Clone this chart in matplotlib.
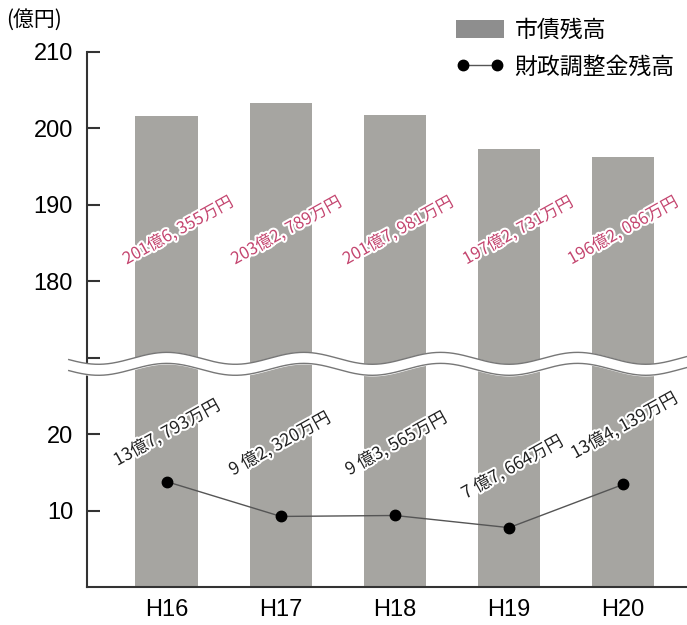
import numpy as np
import matplotlib
matplotlib.use("Agg")
import matplotlib.pyplot as plt
import matplotlib.patheffects as pe
from matplotlib.patches import Patch
from matplotlib.lines import Line2D

plt.rcParams['font.family'] = ['Liberation Sans', 'Noto Sans CJK JP', 'DejaVu Sans']
JP = ['Noto Sans CJK JP', 'DejaVu Sans']

# データ
years = ["H16", "H17", "H18", "H19", "H20"]
shisai = [201.6355, 203.2789, 201.7981, 197.2731, 196.2086]      # 市債残高(億円)
zaisei = [13.7793, 9.2320, 9.3565, 7.7664, 13.4139]              # 財政調整金残高(億円)
shisai_lbl = ["201億6, 355万円", "203億2, 789万円", "201億7, 981万円",
              "197億2, 731万円", "196億2, 086万円"]
zaisei_lbl = ["13億7, 793万円", "9 億2, 320万円", "9 億3, 565万円",
              "7 億7, 664万円", "13億4, 139万円"]

# 上段(170〜210)を下段の上に詰める
SHIFT = 140
def up(v):
    return np.asarray(v) - SHIFT

fig = plt.figure(figsize=(6.87, 6.25), dpi=100)
ax = fig.add_axes([87/687, 1-587/625, 1-87/687, (587-52)/625])

x = np.arange(len(years))
ax.bar(x, up(shisai), width=0.55, color='#a6a5a1', zorder=1)
ax.plot(x, zaisei, color='#555555', lw=1, zorder=4)
ax.plot(x, zaisei, 'o', color='black', ms=7.5, zorder=5)

ax.set_xlim(-0.70, 4.56)
ax.set_ylim(0, 70)

# 波線(省略記号)
wx = np.linspace(-0.86, 4.7, 600)
wu = 29.92 + 0.78*np.cos(2*np.pi*wx/1.2)
wl = wu - 1.44
ax.fill_between(wx, wl, wu, color='white', zorder=6, clip_on=False)
ax.plot(wx, wu, color='#777777', lw=1, zorder=7, clip_on=False)
ax.plot(wx, wl, color='#777777', lw=1, zorder=7, clip_on=False)

halo = [pe.withStroke(linewidth=3, foreground='white')]
s_dx = [0.1, 0.05, 0.03, 0.08, 0.0]
for i, t in enumerate(shisai_lbl):
    ax.text(i + s_dx[i], 46.6, t, rotation=29, ha='center', va='center',
            fontsize=12, color='#c4456f', family=JP, zorder=8,
            path_effects=halo, rotation_mode='anchor')

z_dx = [0.0, -0.01, 0.01, 0.03, 0.01]
z_dy = [6.4, 9.5, 9.4, 7.9, 7.7]
for i, t in enumerate(zaisei_lbl):
    ax.text(i + z_dx[i], zaisei[i] + z_dy[i], t, rotation=29, ha='center',
            va='center', fontsize=12.5, color='#222222', family=JP, zorder=8,
            path_effects=halo, rotation_mode='anchor')

ticks = [10, 20, 30, 40, 50, 60, 70]
tick_lbl = ["10", "20", "", "180", "190", "200", "210"]
ax.set_yticks(ticks)
ax.set_yticklabels(tick_lbl)
ax.set_xticks(x)
ax.set_xticklabels(years)
ax.tick_params(axis='y', direction='in', length=9, width=1.5, pad=10,
               labelsize=17, color='#333333')
ax.tick_params(axis='x', length=0, pad=9, labelsize=17)
for s in ['top', 'right']:
    ax.spines[s].set_visible(False)
for s in ['left', 'bottom']:
    ax.spines[s].set_linewidth(1.5)
    ax.spines[s].set_color('#333333')

fig.text(6/687, 1-20/625, "(億円)", fontsize=15, family=JP, va='center')

handles = [Patch(facecolor='#8e8e8e', edgecolor='none'),
           Line2D([0], [0], color='#555555', lw=1, marker='o', ms=7.5,
                  mfc='black', mec='black')]
fig.legend(handles, ["市債残高", "財政調整金残高"], loc='upper left',
           bbox_to_anchor=(456/687, 1-19/625), frameon=False, borderpad=0,
           borderaxespad=0, handlelength=2.1, handleheight=0.85,
           handletextpad=0.45, labelspacing=0.6, numpoints=2,
           prop={'family': JP, 'size': 16.5})

fig.savefig("out.png", dpi=100)
